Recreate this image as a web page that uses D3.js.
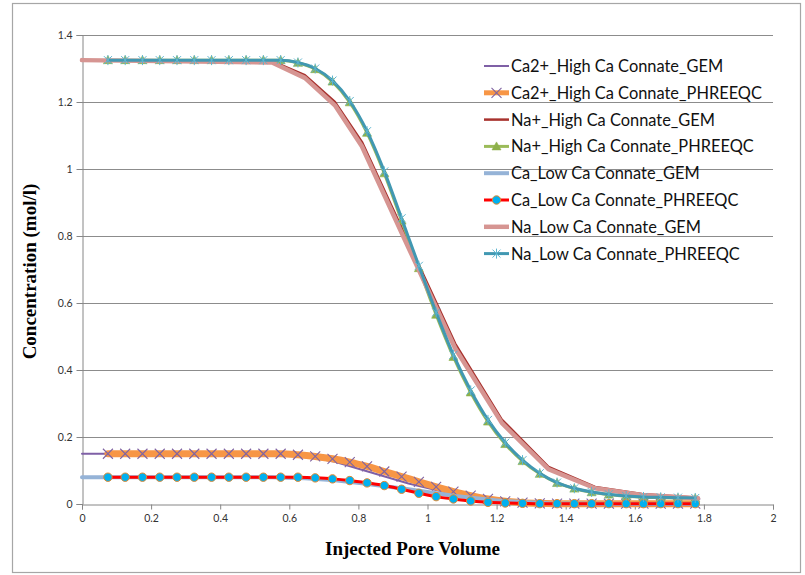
<!DOCTYPE html>
<html>
<head>
<meta charset="utf-8">
<script src="https://cdn.jsdelivr.net/npm/d3@7"></script>
<style>
  body { margin: 0; background: #fff; }
  svg { display: block; }
</style>
</head>
<body>
<svg id="chart" width="805" height="575"></svg>
<script>
// Injected pore volume sampling of each simulator
const gemPV = [0, 0.55, 0.645, 0.732, 0.81, 0.945, 1.08, 1.215, 1.35, 1.485, 1.62, 1.783];
const phreeqcPV = [0.075, 0.125, 0.175, 0.225, 0.275, 0.325, 0.375, 0.425, 0.475, 0.525,
  0.575, 0.625, 0.675, 0.725, 0.775, 0.825, 0.875, 0.925, 0.975, 1.025, 1.075, 1.125,
  1.175, 1.225, 1.275, 1.325, 1.375, 1.425, 1.475, 1.525, 1.575, 1.625, 1.675, 1.725, 1.775];

// Concentrations (mol/l)
const caHighGEM = [0.15, 0.15, 0.143, 0.126, 0.102, 0.061, 0.028, 0.01, 0.003, 0.001, 0.0005, 0.0003];
const caHighPHREEQC = [0.15, 0.15, 0.15, 0.15, 0.15, 0.15, 0.15, 0.15, 0.15, 0.15, 0.15,
  0.147, 0.142, 0.135, 0.125, 0.112, 0.097, 0.082, 0.066, 0.051, 0.037, 0.025, 0.015, 0.008,
  0.004, 0.002, 0.001, 0.001, 0.001, 0.001, 0.001, 0.001, 0.001, 0.001, 0.001];
const naHighGEM = [1.325, 1.322, 1.28, 1.2, 1.081, 0.78, 0.479, 0.252, 0.111, 0.051, 0.03, 0.019];
const naHighPHREEQC = [1.325, 1.325, 1.325, 1.325, 1.325, 1.325, 1.325, 1.325, 1.325, 1.325, 1.325,
  1.317, 1.298, 1.261, 1.199, 1.108, 0.987, 0.846, 0.704, 0.565, 0.439, 0.333, 0.246, 0.179,
  0.128, 0.09, 0.063, 0.046, 0.035, 0.028, 0.023, 0.02, 0.019, 0.018, 0.017];
const caLowGEM = [0.08, 0.08, 0.077, 0.071, 0.062, 0.044, 0.024, 0.009, 0.002, 0.0005, 0.0002, 0.0001];
const caLowPHREEQC = [0.08, 0.08, 0.08, 0.08, 0.08, 0.08, 0.08, 0.08, 0.08, 0.08, 0.08, 0.08,
  0.078, 0.075, 0.07, 0.063, 0.055, 0.044, 0.032, 0.022, 0.015, 0.009, 0.005, 0.003, 0.002,
  0.001, 0.001, 0.001, 0.001, 0.001, 0.001, 0.001, 0.001, 0.001, 0.001];
const naLowGEM = [1.325, 1.318, 1.272, 1.19, 1.068, 0.765, 0.465, 0.242, 0.104, 0.047, 0.027, 0.017];
const naLowPHREEQC = [1.325, 1.325, 1.325, 1.325, 1.325, 1.325, 1.325, 1.325, 1.325, 1.325, 1.325,
  1.318, 1.3, 1.264, 1.203, 1.113, 0.993, 0.853, 0.711, 0.572, 0.445, 0.339, 0.251, 0.183,
  0.131, 0.092, 0.064, 0.047, 0.036, 0.029, 0.024, 0.021, 0.02, 0.019, 0.018];

const xTicks = [0, 0.2, 0.4, 0.6, 0.8, 1, 1.2, 1.4, 1.6, 1.8, 2];
const yTicks = [0, 0.2, 0.4, 0.6, 0.8, 1, 1.2, 1.4];

const seriesNames = [
  "Ca2+_High Ca Connate_GEM", "Ca2+_High Ca Connate_PHREEQC",
  "Na+_High Ca Connate_GEM", "Na+_High Ca Connate_PHREEQC",
  "Ca_Low Ca Connate_GEM", "Ca_Low Ca Connate_PHREEQC",
  "Na_Low Ca Connate_GEM", "Na_Low Ca Connate_PHREEQC"
];

const series = [
  { name: seriesNames[0], x: gemPV, y: caHighGEM, color: "#7F60A6", width: 2, smooth: false, marker: null },
  { name: seriesNames[1], x: phreeqcPV, y: caHighPHREEQC, color: "#F79646", width: 7, smooth: true, marker: "x", mColor: "#8064A2" },
  { name: seriesNames[2], x: gemPV, y: naHighGEM, color: "#A8322E", width: 2.5, smooth: false, marker: null },
  { name: seriesNames[3], x: phreeqcPV, y: naHighPHREEQC, color: "#9BBB59", width: 3, smooth: true, marker: "triangle", mColor: "#8DB04A" },
  { name: seriesNames[4], x: gemPV, y: caLowGEM, color: "#95B3D7", width: 4, smooth: false, marker: null },
  { name: seriesNames[5], x: phreeqcPV, y: caLowPHREEQC, color: "#FF0000", width: 3, smooth: true, marker: "circle", mColor: "#00B0F0", mStroke: "#E3892F" },
  { name: seriesNames[6], x: gemPV, y: naLowGEM, color: "#D69592", width: 4.5, smooth: false, marker: null },
  { name: seriesNames[7], x: phreeqcPV, y: naLowPHREEQC, color: "#4198B2", width: 3, smooth: true, marker: "star", mColor: "#5DB5CF" }
];

const svg = d3.select("#chart");

// outer chart frame
svg.append("rect")
  .attr("x", 12.5).attr("y", 3.5).attr("width", 788).attr("height", 569)
  .attr("fill", "#fff").attr("stroke", "#A6A6A6").attr("stroke-width", 1.2);

const plot = { left: 82, right: 773, top: 35, bottom: 504 };
const x = d3.scaleLinear().domain([0, 2]).range([plot.left, plot.right]);
const y = d3.scaleLinear().domain([0, 1.4]).range([plot.bottom, plot.top]);

// horizontal gridlines
svg.append("g").selectAll("line").data(yTicks.filter(d => d > 0)).join("line")
  .attr("x1", plot.left).attr("x2", plot.right)
  .attr("y1", d => Math.round(y(d)) + 0.5).attr("y2", d => Math.round(y(d)) + 0.5)
  .attr("stroke", "#8C8C8C").attr("stroke-width", 1);

// axes
const tickFont = "Lato, 'Open Sans', sans-serif";
const yAxis = svg.append("g").attr("transform", `translate(${plot.left + 0.5},0)`)
  .call(d3.axisLeft(y).tickValues(yTicks).tickFormat(d3.format("")).tickSize(6).tickPadding(4));
const xAxis = svg.append("g").attr("transform", `translate(0,${plot.bottom + 0.5})`)
  .call(d3.axisBottom(x).tickValues(xTicks).tickFormat(d3.format("")).tickSize(5).tickPadding(5));
[yAxis, xAxis].forEach(a => {
  a.select(".domain").attr("stroke", "#868686");
  a.selectAll(".tick line").attr("stroke", "#868686");
  a.selectAll(".tick text").attr("fill", "#333").style("font-family", tickFont).style("font-size", "10.5px");
});

// axis titles
svg.append("text")
  .attr("transform", `translate(36,${(plot.top + plot.bottom) / 2 + 2}) rotate(-90)`)
  .attr("text-anchor", "middle")
  .style("font-family", "'Liberation Serif', 'Times New Roman', serif")
  .style("font-weight", "bold").style("font-size", "19px")
  .text("Concentration (mol/l)");
svg.append("text")
  .attr("x", (plot.left + plot.right) / 2 - 15).attr("y", 555)
  .attr("text-anchor", "middle")
  .style("font-family", "'Liberation Serif', 'Times New Roman', serif")
  .style("font-weight", "bold").style("font-size", "19px")
  .text("Injected Pore Volume");

// marker drawing
function drawMarker(g, type, cx, cy, s) {
  if (type === "x") {
    g.append("path").attr("d", `M${cx - 5},${cy - 5}L${cx + 5},${cy + 5}M${cx - 5},${cy + 5}L${cx + 5},${cy - 5}`)
      .attr("stroke", s.mColor).attr("stroke-width", 1.1).attr("fill", "none");
  } else if (type === "triangle") {
    g.append("path").attr("d", `M${cx},${cy - 4.5}L${cx + 4.5},${cy + 3.5}L${cx - 4.5},${cy + 3.5}Z`)
      .attr("fill", s.mColor).attr("stroke", s.mColor).attr("stroke-width", 0.6);
  } else if (type === "circle") {
    g.append("circle").attr("cx", cx).attr("cy", cy).attr("r", 4.2)
      .attr("fill", s.mColor).attr("stroke", s.mStroke).attr("stroke-width", 1);
  } else if (type === "star") {
    g.append("path").attr("d", `M${cx - 4},${cy - 4}L${cx + 4},${cy + 4}M${cx - 4},${cy + 4}L${cx + 4},${cy - 4}M${cx},${cy - 5}L${cx},${cy + 5}`)
      .attr("stroke", s.mColor).attr("stroke-width", 1).attr("fill", "none");
  }
}

// series lines and markers, drawn in legend order
const linesG = svg.append("g");
series.forEach(s => {
  const pts = s.x.map((v, i) => [v, s.y[i]]);
  const line = d3.line().x(d => x(d[0])).y(d => y(d[1]))
    .curve(s.smooth ? d3.curveMonotoneX : d3.curveLinear);
  const g = linesG.append("g");
  g.append("path").attr("d", line(pts)).attr("fill", "none")
    .attr("stroke", s.color).attr("stroke-width", s.width)
    .attr("stroke-linejoin", "round").attr("stroke-linecap", "round");
  if (s.marker) pts.forEach(p => drawMarker(g, s.marker, x(p[0]), y(p[1]), s));
});

// legend
const legend = svg.append("g");
const legX = 484, legY = 66, legStep = 26.8;
series.forEach((s, i) => {
  const cy = legY + i * legStep;
  const g = legend.append("g");
  g.append("line").attr("x1", legX).attr("x2", legX + 25).attr("y1", cy).attr("y2", cy)
    .attr("stroke", s.color).attr("stroke-width", Math.min(s.width, 5));
  if (s.marker) drawMarker(g, s.marker, legX + 12.5, cy, s);
  g.append("text").attr("x", legX + 27).attr("y", cy).attr("dy", "0.36em")
    .style("font-family", tickFont).style("font-size", "16.4px").attr("fill", "#111")
    .text(s.name);
});
</script>
</body>
</html>
